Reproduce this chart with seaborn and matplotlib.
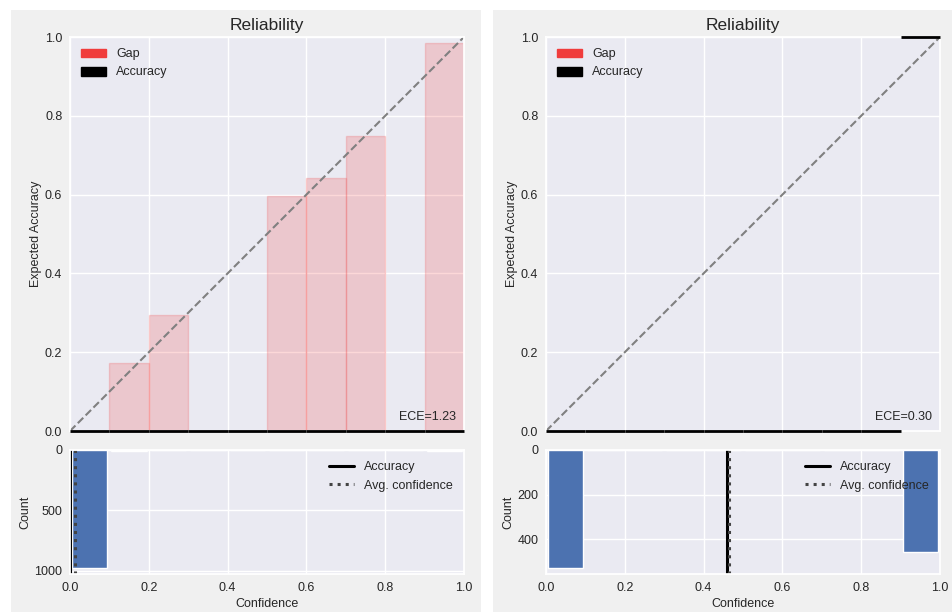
import numpy as np
import matplotlib
matplotlib.use("Agg")
import matplotlib.pyplot as plt
from matplotlib.patches import Patch, Rectangle
from matplotlib.lines import Line2D
import seaborn as sns

# bins
bin_edges = np.linspace(0.0, 1.0, 11)

# left model
left_acc = [0, 0, 0, 0, 0, 0, 0, 0, 0, 0]
left_conf = [0, 0.172, 0.294, 0, 0, 0.596, 0.642, 0.749, 0, 0.984]
left_counts = [976, 8, 1, 0, 0, 1, 1, 1, 0, 8]
left_avg_acc = 0.0
left_avg_conf = 0.012
left_ece = 1.23
left_count_ticks = [0, 500, 1000]

# right model
right_acc = [0, 0, 0, 0, 0, 0, 0, 0, 0, 1]
right_conf = [0, 0, 0, 0, 0, 0, 0, 0, 0, 1]
right_counts = [529, 0, 0, 0, 0, 0, 0, 0, 0, 457]
right_avg_acc = 0.459
right_avg_conf = 0.464
right_ece = 0.30
right_count_ticks = [0, 200, 400]

sns.set_theme(style="darkgrid")
plt.rcParams['font.family'] = ['Liberation Sans', 'DejaVu Sans']
plt.rcParams['text.color'] = '.15'
plt.rcParams['axes.labelcolor'] = '.15'
plt.rcParams['xtick.major.size'] = 0
plt.rcParams['ytick.major.size'] = 0
plt.rcParams['xtick.major.pad'] = 5.5
plt.rcParams['ytick.major.pad'] = 5.5

W, H = 952, 612
fig = plt.figure(figsize=(W / 100, H / 100), dpi=100, facecolor="white")

red = (240 / 255., 60 / 255., 60 / 255.)


def px(x0, x1, ytop, ybot):
    return [x0 / W, (H - ybot) / H, (x1 - x0) / W, (ybot - ytop) / H]


def panel(x0, x1, ax_l, acc, conf, counts, avg_acc, avg_conf, ece, count_ticks):
    # gray background of the panel
    fig.patches.append(Rectangle((x0 / W, 0), (x1 - x0) / W, 602 / H,
                                 transform=fig.transFigure, facecolor="#f0f0f0",
                                 edgecolor="none", zorder=-10))
    ax_top = fig.add_axes(px(ax_l, ax_l + 394, 37, 431))
    ax_hist = fig.add_axes(px(ax_l, ax_l + 394, 450, 574))

    acc = np.array(acc, dtype=float)
    conf = np.array(conf, dtype=float)
    size = bin_edges[1] - bin_edges[0]
    pos = bin_edges[:-1] + size / 2

    colors = np.zeros((10, 4))
    colors[:, :3] = red
    colors[:, 3] = 0.2
    ax_top.bar(pos, np.abs(acc - conf), bottom=np.minimum(acc, conf), width=size,
               color=colors, edgecolor=colors, linewidth=1)
    ax_top.bar(pos, 0, bottom=acc, width=size, color="black", edgecolor="black",
               linewidth=2, clip_on=False, zorder=3)
    sns.lineplot(x=[0, 1], y=[0, 1], ax=ax_top, linestyle="--", color="gray")
    ax_top.set_xlim(0, 1)
    ax_top.set_ylim(0, 1)
    ax_top.tick_params(axis="x", labelbottom=False)
    ax_top.tick_params(labelsize=9)
    ax_top.set_title("Reliability", fontsize=12.5, pad=5)
    ax_top.set_ylabel("Expected Accuracy", fontsize=9, labelpad=2)
    ax_top.text(0.98, 0.02, "ECE=%0.2f" % ece, ha="right", va="bottom",
                fontsize=9, transform=ax_top.transAxes)
    ax_top.legend(handles=[Patch(color=red, label="Gap"),
                           Patch(facecolor="black", edgecolor="black", label="Accuracy")],
                  loc="upper left", fontsize=9, frameon=False)

    ax_hist.bar(pos, counts, width=size * 0.9, color="#4c72b0")
    ax_hist.axvline(avg_acc, ls="solid", lw=2.2, c="black")
    ax_hist.axvline(avg_conf, ls="dotted", lw=2.2, c="#444")
    ax_hist.set_xlim(0, 1)
    ax_hist.set_yticks(count_ticks)
    ax_hist.invert_yaxis()
    ax_hist.tick_params(labelsize=9)
    ax_hist.set_xlabel("Confidence", fontsize=9, labelpad=3)
    ax_hist.set_ylabel("Count", fontsize=9, labelpad=2)
    ax_hist.legend(handles=[Line2D([], [], ls="solid", lw=2.2, c="black", label="Accuracy"),
                            Line2D([], [], ls="dotted", lw=2.2, c="#444", label="Avg. confidence")],
                   loc="upper right", fontsize=9, frameon=False)


panel(11, 481, 70, left_acc, left_conf, left_counts, left_avg_acc, left_avg_conf,
      left_ece, left_count_ticks)
panel(493, 960, 546, right_acc, right_conf, right_counts, right_avg_acc, right_avg_conf,
      right_ece, right_count_ticks)

fig.savefig("out.png", dpi=100, facecolor="white")
